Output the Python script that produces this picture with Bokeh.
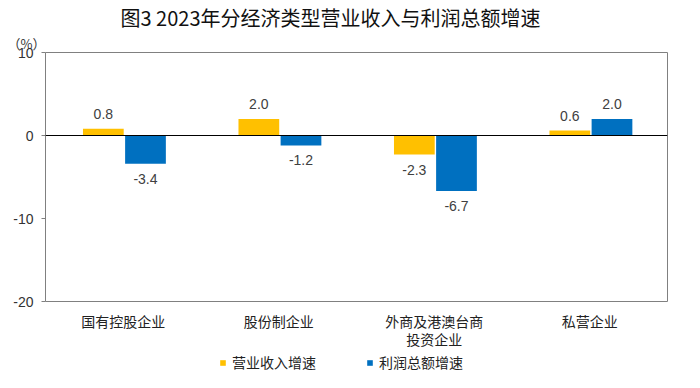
from bokeh.plotting import figure
from bokeh.layouts import column
from bokeh.models import (Range1d, FixedTicker, Span, Title, Legend, LegendItem,
                          ColumnDataSource)
from bokeh.core.properties import value
from bokeh.embed import file_html
from bokeh.resources import INLINE

title_text = "图3 2023年分经济类型营业收入与利润总额增速"
unit_text = "（%）"
categories = ["国有控股企业", "股份制企业", "外商及港澳台商\n投资企业", "私营企业"]
series_names = ["营业收入增速", "利润总额增速"]
revenue = [0.8, 2.0, -2.3, 0.6]
profit = [-3.4, -1.2, -6.7, 2.0]
y_ticks = [-20, -10, 0, 10]
colors = ["#FFC000", "#0070C0"]

CJK = "Noto Sans CJK SC"
NUM = "Liberation Sans"

W = 684
H_MAIN = 351
H_LEG = 21

p = figure(width=W, height=H_MAIN, output_backend="svg", toolbar_location=None,
           x_range=Range1d(0, len(categories)), y_range=Range1d(y_ticks[0], y_ticks[-1]),
           min_border_left=45, min_border_right=17, min_border_top=52, min_border_bottom=46)
p.background_fill_color = "white"
p.border_fill_color = "white"
p.outline_line_color = "#808080"
p.outline_line_width = 1
p.xgrid.visible = False
p.ygrid.visible = False

centers = [i + 0.5 for i in range(len(categories))]
offsets = [-0.128, 0.143]
bar_w = 0.262
sources = []
for vals, off, col in zip([revenue, profit], offsets, colors):
    xs = [c + off for c in centers]
    src = ColumnDataSource(dict(x=xs, top=vals,
                                lab=[f"{v:.1f}" for v in vals],
                                yoff=[-15 if v >= 0 else 15 for v in vals]))
    sources.append(src)
    p.vbar(x="x", top="top", bottom=0, width=bar_w, source=src,
           fill_color=col, line_color=None)
    p.text(x="x", y="top", text="lab", source=src, y_offset="yoff",
           text_align="center", text_baseline="middle",
           text_font=value(NUM), text_font_size="14px", text_color="#404040")

p.add_layout(Span(location=0, dimension="width", line_color="black", line_width=1))

# axes
p.yaxis.ticker = FixedTicker(ticks=y_ticks)
p.yaxis.major_label_overrides = {t: str(t) for t in y_ticks}
p.yaxis.axis_line_color = None
p.yaxis.major_tick_in = 0
p.yaxis.major_tick_out = 4
p.yaxis.major_tick_line_color = "#808080"
p.yaxis.minor_tick_line_color = None
p.yaxis.major_label_standoff = 8
p.yaxis.major_label_text_font = NUM
p.yaxis.major_label_text_font_size = "14px"
p.yaxis.major_label_text_color = "#333333"

p.xaxis.ticker = FixedTicker(ticks=centers)
p.xaxis.major_label_overrides = {c: lab for c, lab in zip(centers, categories)}
p.xaxis.axis_line_color = None
p.xaxis.major_tick_line_color = None
p.xaxis.major_tick_in = 0
p.xaxis.major_tick_out = 0
p.xaxis.minor_tick_line_color = None
p.xaxis.minor_tick_in = 0
p.xaxis.minor_tick_out = 0
p.xaxis.major_label_standoff = 9
p.xaxis.major_label_text_font = CJK
p.xaxis.major_label_text_font_size = "14px"
p.xaxis.major_label_text_line_height = 0.9
p.xaxis.major_label_text_color = "#222222"

# title and unit
p.title.text = title_text
p.title.align = "left"
p.title.offset = 75
p.title.text_font = CJK
p.title.text_font_size = "20px"
p.title.text_font_style = "normal"
p.title.text_color = "#111111"
p.title.standoff = 0
p.add_layout(Title(text=unit_text, align="left", offset=-38, text_font=CJK,
                   text_font_size="13px", text_font_style="normal",
                   text_color="#333333", standoff=0), "above")

# legend strip (its frame is aligned with the main frame by the column layout)
p2 = figure(width=W, height=H_LEG, output_backend="svg", toolbar_location=None,
            x_axis_type=None, y_axis_type=None,
            x_range=Range1d(100, 101), y_range=Range1d(100, 101),
            min_border=0, min_border_left=0, min_border_right=0,
            min_border_top=0, min_border_bottom=0)
p2.outline_line_color = None
p2.xgrid.visible = False
p2.ygrid.visible = False
leg_renderers = [p2.vbar(x="x", top="top", bottom=0, width=bar_w, source=s,
                         fill_color=c, line_color=None) for s, c in zip(sources, colors)]
legend = Legend(items=[LegendItem(label=n, renderers=[r]) for n, r in zip(series_names, leg_renderers)],
                orientation="horizontal", location=(174, 0),
                padding=0, margin=0, spacing=50, label_standoff=6,
                glyph_width=7, glyph_height=7, label_height=16,
                label_text_font=CJK, label_text_font_size="14px", label_text_color="#222222",
                label_text_baseline="middle",
                border_line_color=None, background_fill_alpha=0)
p2.add_layout(legend)

layout = column(p, p2, spacing=0)
open("out.html", "w").write(file_html(layout, INLINE))
